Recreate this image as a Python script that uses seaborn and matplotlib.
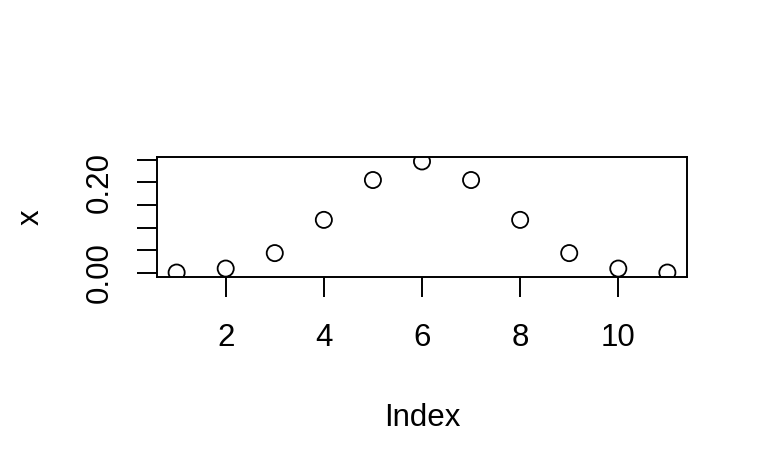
import numpy as np
import pandas as pd
import matplotlib
matplotlib.use("Agg")
import matplotlib.pyplot as plt
import seaborn as sns

# values (look like dbinom(0:10, 10, 0.5))
index = [1, 2, 3, 4, 5, 6, 7, 8, 9, 10, 11]
x = [0.00098, 0.0098, 0.0439, 0.1172, 0.2051, 0.2461,
     0.2051, 0.1172, 0.0439, 0.0098, 0.00098]

xticks = [2, 4, 6, 8, 10]
yticks = [0.00, 0.05, 0.10, 0.15, 0.20, 0.25]
ytick_labels = ['0.00', '', '', '', '0.20', '']

df = pd.DataFrame({'Index': index, 'x': x})

sns.set_style('ticks')
plt.rcParams['font.family'] = ['Liberation Sans', 'DejaVu Sans']

fig = plt.figure(figsize=(7.68, 4.74), dpi=100)
ax = fig.add_axes([157 / 768, 1 - 277 / 474, 530 / 768, 120 / 474])

sns.scatterplot(data=df, x='Index', y='x', ax=ax, marker='o', s=135,
                facecolor='none', edgecolor='black', linewidth=1.3)

# R-style 4% padding
rx = max(index) - min(index)
ry = max(x) - min(x)
ax.set_xlim(min(index) - 0.04 * rx, max(index) + 0.04 * rx)
ax.set_ylim(min(x) - 0.04 * ry, max(x) + 0.04 * ry)

ax.set_xticks(xticks)
ax.set_yticks(yticks)
ax.set_yticklabels(ytick_labels, rotation=90, va='center')

for side in ['top', 'right', 'left', 'bottom']:
    ax.spines[side].set_visible(True)
    ax.spines[side].set_linewidth(1.4)
    ax.spines[side].set_color('black')

ax.tick_params(axis='x', direction='out', length=14.4, width=1.4,
               labelsize=22.5, colors='black', pad=19)
ax.tick_params(axis='y', direction='out', length=14.4, width=1.4,
               labelsize=22.5, colors='black', pad=16)
ax.set_xlabel('Index', fontsize=22.5, labelpad=36, color='black')
ax.set_ylabel('x', fontsize=22.5, labelpad=28, color='black')

fig.savefig('out.png', dpi=100)
